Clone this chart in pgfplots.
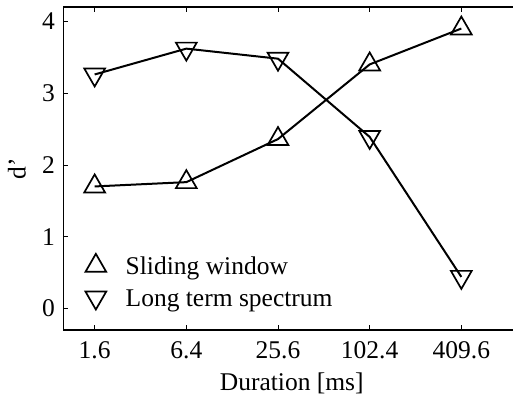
\documentclass[border=0pt]{standalone}
\usepackage{fontspec}
\setmainfont{Liberation Serif}
\usepackage{pgfplots}
\pgfplotsset{compat=1.18}
\begin{document}
\fontsize{25.5}{30}\selectfont
\begin{tikzpicture}
\begin{axis}[
  at={(63.5pt,64pt)}, anchor=south west,
  width=456.5pt, height=323pt, scale only axis,
  xmin=-0.34, xmax=4.64, ymin=-0.3, ymax=4.2,
  xtick={0,1,2,3,4},
  xticklabels={1.6,6.4,25.6,102.4,409.6},
  ytick={0,1,2,3,4},
  tick align=inside, major tick length=5pt,
  axis line style={line width=1.2pt},
  every tick/.style={black, line width=0.8pt},
  xlabel={Duration [ms]}, ylabel={d'},
  /pgf/number format/assume math mode=true,
  tick label style={font=\fontsize{25.5}{30}\selectfont},
  label style={font=\fontsize{25.5}{30}\selectfont},
  xticklabel style={anchor=base, yshift=-28pt},
  xlabel style={at={(axis description cs:0.5,-0.1858)}, anchor=base},
  ylabel style={at={(axis description cs:-0.102,0.5)}, anchor=center},
  legend style={draw=none, fill=none, inner sep=0pt, outer sep=0pt,
    at={(0.0471,0.2415)}, anchor=north west,
    font=\fontsize{25.5}{30}\selectfont, row sep=4pt,
    nodes={inner sep=1pt, text height=17pt, text depth=0pt},
    /tikz/every odd column/.append style={column sep=18pt}},
  legend cell align=left,
  legend image code/.code={\draw[#1] plot coordinates {(0pt,0pt)}; \path (-10pt,-13pt) (10pt,13pt);},
]
\addlegendimage{only marks, mark=triangle, mark size=12pt, line width=1.7pt, black}
\addlegendentry{Sliding window}
\addlegendimage{only marks, mark=triangle, mark options={rotate=180}, mark size=12pt, line width=1.7pt, black}
\addlegendentry{Long term spectrum}
\addplot[black, line width=2pt, mark=triangle, mark size=12pt, mark options={line width=1.7pt}, forget plot]
  coordinates {(0,1.70) (1,1.76) (2,2.36) (3,3.40) (4,3.90)};
\addplot[black, line width=2pt, mark=triangle, mark options={rotate=180, line width=1.7pt}, mark size=12pt, forget plot]
  coordinates {(0,3.26) (1,3.62) (2,3.48) (3,2.39) (4,0.44)};
\end{axis}
\pgfresetboundingbox
\useasboundingbox (0pt,0pt) rectangle (513pt,394pt);
\end{tikzpicture}
\end{document}
